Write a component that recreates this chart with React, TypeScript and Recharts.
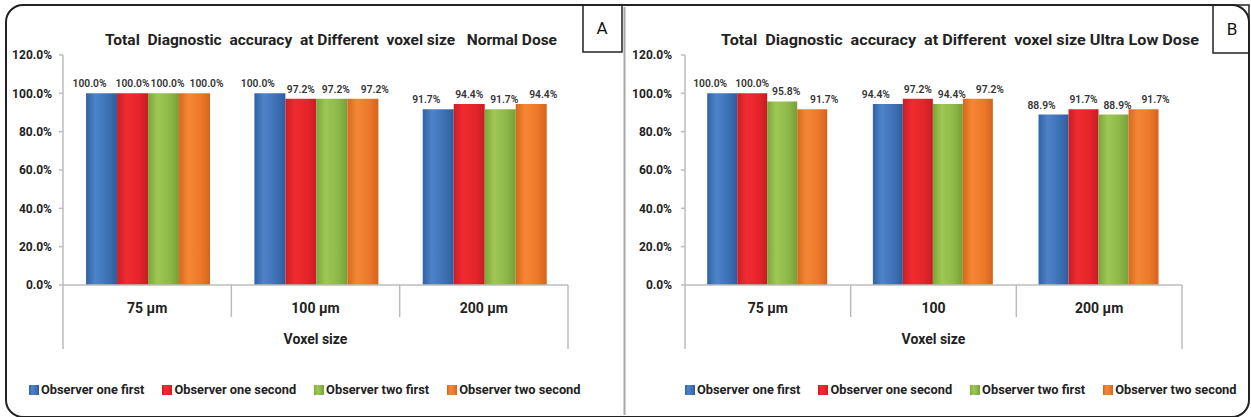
import React from 'react';
import { BarChart, Bar, XAxis, YAxis, Legend, LabelList } from 'recharts';

const categoriesA = ['75 µm', '100 µm', '200 µm'];
const categoriesB = ['75 µm', '100', '200 µm'];
const seriesNames = ['Observer one first', 'Observer one second', 'Observer two first', 'Observer two second'];

const obsOneFirstA = [100.0, 100.0, 91.7];
const obsOneSecondA = [100.0, 97.2, 94.4];
const obsTwoFirstA = [100.0, 97.2, 91.7];
const obsTwoSecondA = [100.0, 97.2, 94.4];

const obsOneFirstB = [100.0, 94.4, 88.9];
const obsOneSecondB = [100.0, 97.2, 91.7];
const obsTwoFirstB = [95.8, 94.4, 88.9];
const obsTwoSecondB = [91.7, 97.2, 91.7];

const yTicks = [0, 20, 40, 60, 80, 100, 120];
const titleA = 'Total  Diagnostic  accuracy  at Different  voxel size   Normal Dose';
const titleB = 'Total  Diagnostic  accuracy  at Different  voxel size Ultra Low Dose';
const xAxisTitle = 'Voxel size';
const panelLetters = ['A', 'B'];

const FONT = 'Roboto, "Noto Sans", sans-serif';
const AXIS_GRAY = '#bcbcbc';

const gradients = [
  { key: 'blue', stops: ['#3062a3', '#4d84c9', '#3d71b6', '#2e5d9c'], labelDx: -12 },
  { key: 'red', stops: ['#cb1e25', '#f02b31', '#e5252b', '#c61d23'], labelDx: 0 },
  { key: 'green', stops: ['#7ba53b', '#9ec754', '#8db848', '#769f37'], labelDx: 4 },
  { key: 'orange', stops: ['#d8671e', '#f38734', '#ed7829', '#d4641c'], labelDx: 12 },
];

const buildRows = (cats: string[], a: number[], b: number[], c: number[], d: number[]) =>
  cats.map((cat, i) => ({ cat, s0: a[i], s1: b[i], s2: c[i], s3: d[i] }));

const rowsA = buildRows(categoriesA, obsOneFirstA, obsOneSecondA, obsTwoFirstA, obsTwoSecondA);
const rowsB = buildRows(categoriesB, obsOneFirstB, obsOneSecondB, obsTwoFirstB, obsTwoSecondB);

const pct = (v: any) => `${Number(v).toFixed(1)}%`;

const CategoryTick = (props: any) => {
  const { x, y, payload, index, visibleTicksCount, width } = props;
  const half = payload && payload.offset ? payload.offset : width / visibleTicksCount / 2;
  const left = x - half;
  const right = x + half;
  const last = index === visibleTicksCount - 1;
  return (
    <g>
      <line x1={left} y1={y} x2={left} y2={y + (index === 0 ? 64 : 32)} stroke={AXIS_GRAY} strokeWidth={1.5} />
      {last && <line x1={right} y1={y} x2={right} y2={y + 64} stroke={AXIS_GRAY} strokeWidth={1.5} />}
      <text x={x} y={y + 23} textAnchor="middle" dominantBaseline="central" fontFamily={FONT} fontSize={14} fontWeight={700} fill="#222">
        {payload.value}
      </text>
    </g>
  );
};

const LegendContent = (props: any) => {
  const { payload } = props;
  return (
    <div style={{ display: 'flex', alignItems: 'center', fontFamily: FONT, fontSize: 12.8, fontWeight: 700, color: '#222', whiteSpace: 'nowrap' }}>
      {(payload || []).map((entry: any, i: number) => (
        <div key={i} style={{ display: 'flex', alignItems: 'center', marginRight: 18 }}>
          <svg width={10} height={10} style={{ display: 'block' }}>
            <rect x={0} y={0} width={10} height={10} fill={entry.color} />
          </svg>
          <span style={{ marginLeft: 2 }}>{entry.value}</span>
        </div>
      ))}
    </div>
  );
};

const Panel = (props: any) => {
  const { rows, prefix, margin, gapPct, tickMargin, legendLeft } = props;
  return (
    <BarChart width={props.width} height={417} data={rows} margin={margin} barCategoryGap={gapPct} barGap={0}>
      <defs>
        {gradients.map((g) => (
          <linearGradient key={g.key} id={`${prefix}-${g.key}`} x1="0" y1="0" x2="1" y2="0">
            <stop offset="0%" stopColor={g.stops[0]} />
            <stop offset="30%" stopColor={g.stops[1]} />
            <stop offset="70%" stopColor={g.stops[2]} />
            <stop offset="100%" stopColor={g.stops[3]} />
          </linearGradient>
        ))}
      </defs>
      <YAxis
        width={60}
        domain={[0, 120]}
        ticks={yTicks}
        interval={0}
        tickFormatter={pct}
        axisLine={{ stroke: AXIS_GRAY, strokeWidth: 1.5 }}
        tickLine={{ stroke: AXIS_GRAY, strokeWidth: 1.5 }}
        tickSize={4}
        tickMargin={tickMargin}
        tick={{ fontFamily: FONT, fontSize: 12, fontWeight: 700, fill: '#222' }}
      />
      <XAxis
        dataKey="cat"
        height={70}
        interval={0}
        axisLine={{ stroke: AXIS_GRAY, strokeWidth: 1.5 }}
        tickLine={false}
        tickSize={0}
        tickMargin={0}
        tick={<CategoryTick />}
        label={{ value: xAxisTitle, position: 'insideBottom', offset: 11, style: { fontFamily: FONT, fontSize: 14, fontWeight: 700, fill: '#222' } }}
      />
      <Legend
        layout="horizontal"
        verticalAlign="middle"
        align="center"
        content={<LegendContent />}
        wrapperStyle={{ left: legendLeft, top: 382, width: 600, height: 18 }}
      />
      {gradients.map((g, i) => (
        <Bar key={g.key} dataKey={`s${i}`} name={seriesNames[i]} fill={`url(#${prefix}-${g.key})`} isAnimationActive={false}>
          <LabelList dataKey={`s${i}`} position="top" offset={6} dx={g.labelDx} formatter={pct} style={{ fontFamily: FONT, fontSize: 10.3, fontWeight: 600, fill: '#333' }} />
        </Bar>
      ))}
    </BarChart>
  );
};

export default function App() {
  return (
    <div style={{ position: 'absolute', left: 0, top: 0, width: 1251, height: 417, background: '#fff', overflow: 'hidden' }}>
      <div style={{ position: 'absolute', left: 0, top: 0 }}>
        <Panel rows={rowsA} prefix="pa" width={625} margin={{ top: 55, right: 57, left: 3, bottom: 62 }} gapPct="13.7%" tickMargin={7} legendLeft={29} />
      </div>
      <div style={{ position: 'absolute', left: 625, top: 0 }}>
        <Panel rows={rowsB} prefix="pb" width={626} margin={{ top: 55, right: 69, left: 0, bottom: 62 }} gapPct="13.4%" tickMargin={9} legendLeft={60} />
      </div>
      <svg width={1251} height={417} style={{ position: 'absolute', left: 0, top: 0, pointerEvents: 'none' }}>
        <rect x={6} y={5} width={1243} height={412} rx={17} ry={17} fill="none" stroke="#222" strokeWidth={2} />
        <line x1={624.5} y1={7} x2={624.5} y2={415} stroke="#a8a8a8" strokeWidth={2} />
        <rect x={583} y={5} width={39} height={47} fill="none" stroke="#222" strokeWidth={1.5} />
        <rect x={1213} y={5} width={36} height={48} fill="none" stroke="#222" strokeWidth={1.5} />
        <text x={602} y={28} textAnchor="middle" dominantBaseline="central" fontFamily={FONT} fontSize={17} fill="#111">{panelLetters[0]}</text>
        <text x={1232} y={29} textAnchor="middle" dominantBaseline="central" fontFamily={FONT} fontSize={17} fill="#111">{panelLetters[1]}</text>
        <text x={331} y={40} textAnchor="middle" dominantBaseline="central" fontFamily={FONT} fontSize={15.5} fontWeight={700} fill="#222" textLength={452} lengthAdjust="spacingAndGlyphs" style={{ whiteSpace: 'pre' }}>{titleA}</text>
        <text x={960} y={40} textAnchor="middle" dominantBaseline="central" fontFamily={FONT} fontSize={15.5} fontWeight={700} fill="#222" textLength={478} lengthAdjust="spacingAndGlyphs" style={{ whiteSpace: 'pre' }}>{titleB}</text>
      </svg>
    </div>
  );
}
